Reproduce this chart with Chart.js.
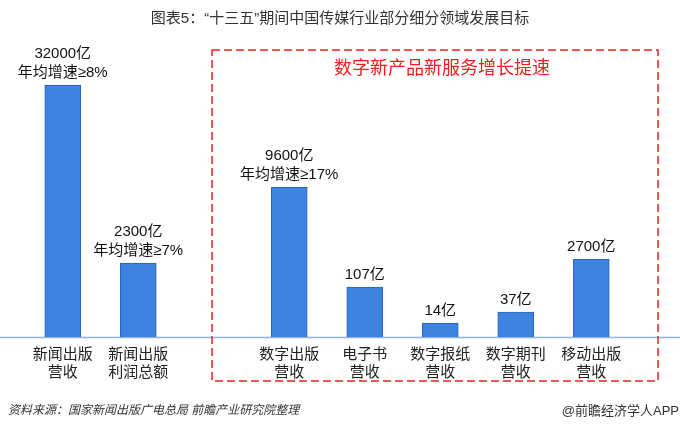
<!DOCTYPE html>
<html>
<head>
<meta charset="utf-8">
<script src="https://cdn.jsdelivr.net/npm/chart.js@4"></script>
<style>
  html, body { margin: 0; padding: 0; background: #fff; }
  #wrap { width: 680px; height: 430px; }
</style>
</head>
<body>
<div id="wrap"><canvas id="chart" width="680" height="430"></canvas></div>
<script>
// categories (the empty one is the gap before the red box)
const categories = [
    ["新闻出版", "营收"],
    ["新闻出版", "利润总额"],
    "",
    ["数字出版", "营收"],
    ["电子书", "营收"],
    ["数字报纸", "营收"],
    ["数字期刊", "营收"],
    ["移动出版", "营收"]
];
// bar heights as drawn in the picture (not to scale with the real values)
const barHeights = [252, 74, null, 150, 50, 14, 25, 78];
const valueLabels = [
    ["32000亿", "年均增速≥8%"],
    ["2300亿", "年均增速≥7%"],
    null,
    ["9600亿", "年均增速≥17%"],
    ["107亿"],
    ["14亿"],
    ["37亿"],
    ["2700亿"]
];
const titleText = "图表5：“十三五”期间中国传媒行业部分细分领域发展目标";
const boxText = "数字新产品新服务增长提速";
const sourceText = "资料来源：国家新闻出版广电总局 前瞻产业研究院整理";
const brandText = "@前瞻经济学人APP";

const FONT = "'Liberation Sans', 'Noto Sans CJK SC', sans-serif";

const decor = {
    id: "decor",
    beforeDatasetsDraw(chart) {
        const ctx = chart.ctx;
        const base = chart.scales.y.getPixelForValue(0);
        // baseline across the whole width
        ctx.save();
        ctx.strokeStyle = "#8eb4e3";
        ctx.lineWidth = 1.5;
        ctx.beginPath();
        ctx.moveTo(0, base + 0.5);
        ctx.lineTo(680, base + 0.5);
        ctx.stroke();
        ctx.restore();
    },
    afterDraw(chart) {
        const ctx = chart.ctx;
        ctx.save();
        // title
        ctx.fillStyle = "#333";
        ctx.font = "15px " + FONT;
        ctx.textAlign = "center";
        ctx.textBaseline = "middle";
        ctx.fillText(titleText, 340, 19);

        // red dashed box
        ctx.strokeStyle = "#f01e1e";
        ctx.lineWidth = 1.5;
        ctx.setLineDash([8, 4]);
        ctx.strokeRect(212, 50, 446, 331);
        ctx.setLineDash([]);
        ctx.fillStyle = "#f01e1e";
        ctx.font = "18px " + FONT;
        ctx.fillText(boxText, 442, 69);

        // value labels above bars
        const meta = chart.getDatasetMeta(0);
        ctx.fillStyle = "#111";
        ctx.font = "15px " + FONT;
        valueLabels.forEach((lines, i) => {
            if (!lines) return;
            const bar = meta.data[i];
            lines.forEach((t, k) => {
                const y = bar.y - 12 - (lines.length - 1 - k) * 19;
                ctx.fillText(t, bar.x, y);
            });
        });

        // footer
        ctx.fillStyle = "#333";
        ctx.font = "italic 12px " + FONT;
        ctx.textAlign = "left";
        ctx.fillText(sourceText, 8, 411);
        ctx.font = "13px " + FONT;
        ctx.textAlign = "right";
        ctx.fillText(brandText, 679, 411);
        ctx.restore();
    }
};

new Chart(document.getElementById("chart"), {
    type: "bar",
    data: {
        labels: categories,
        datasets: [{
            data: barHeights,
            backgroundColor: "#3f83e0",
            borderColor: "#2c62b4",
            borderWidth: 1,
            borderSkipped: "bottom",
            barThickness: 36
        }]
    },
    options: {
        responsive: false,
        animation: false,
        events: [],
        layout: { padding: { left: 25, right: 51, top: 40, bottom: 0 } },
        plugins: { legend: { display: false }, tooltip: { enabled: false } },
        scales: {
            x: {
                grid: { display: false, drawTicks: false },
                border: { display: false },
                ticks: {
                    color: "#222",
                    font: { size: 15, family: FONT, lineHeight: 1.25 },
                    padding: 8,
                    maxRotation: 0,
                    autoSkip: false
                },
                afterFit(scale) { scale.height = 93; }
            },
            y: {
                display: false,
                min: 0,
                max: 297
            }
        }
    },
    plugins: [decor]
});
</script>
</body>
</html>
